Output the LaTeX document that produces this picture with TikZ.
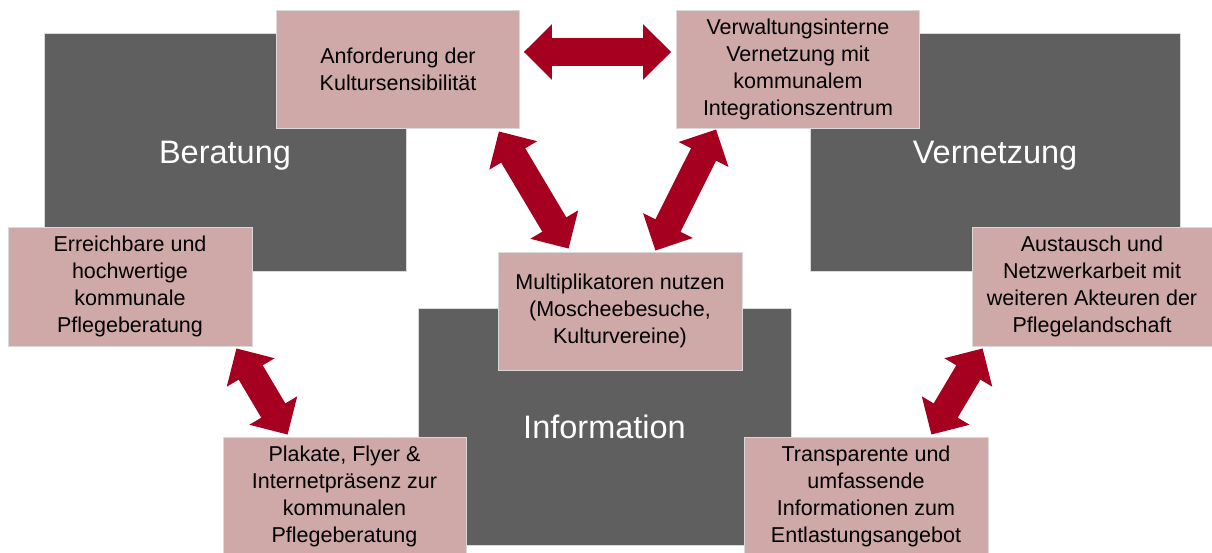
\documentclass[tikz,border=0pt]{standalone}
\usepackage{fontspec}
\setmainfont{Liberation Sans}
\definecolor{fbgray}{RGB}{95,95,95}
\definecolor{fbrose}{RGB}{207,168,168}
\definecolor{fbred}{RGB}{166,0,33}
\usetikzlibrary{arrows.meta}

\begin{document}
\begin{tikzpicture}[x=1pt,y=-1pt,
  field/.style={fill=fbgray,draw=black!15,line width=0.8pt,inner sep=0pt,
    minimum height=238pt,text depth=0pt,font=\fontsize{32.5}{36}\selectfont,text=white},
  task/.style={fill=fbrose,draw=black!15,line width=0.8pt,inner sep=0pt,
    minimum width=243pt,minimum height=118pt,font=\fontsize{21.5}{27}\selectfont,align=center},
  biarrow/.style={{Triangle[width=54pt,length=28pt]}-{Triangle[width=54pt,length=28pt]},
    line width=28pt,fbred}
]
  \useasboundingbox (0,0) rectangle (1212,553);

  % Handlungsfelder
  \node[field,minimum width=362pt] (ber) at (225,152) {Beratung};
  \node[field,minimum width=370pt] (vern) at (995,152) {Vernetzung};
  \node[field,minimum width=373pt,minimum height=237pt] (inf) at (604.5,426.5) {Information};

  % Massnahmen
  \node[task] (anf) at (398,69) {Anforderung der\\Kultursensibilität};
  \node[task] (verw) at (798,69) {Verwaltungsinterne\\Vernetzung mit\\kommunalem\\Integrationszentrum};
  \node[task,minimum width=244pt,minimum height=119pt] (erre) at (130,286.5) {Erreichbare und\\hochwertige\\kommunale\\Pflegeberatung};
  \node[task,minimum width=244pt] (mult) at (620,311) {Multiplikatoren nutzen\\(Moscheebesuche,\\Kulturvereine)};
  \node[task,minimum width=240pt,minimum height=119pt] (aust) at (1092,286.5) {Austausch und\\Netzwerkarbeit mit\\weiteren Akteuren der\\Pflegelandschaft};
  \node[task] (plak) at (344.5,496) {Plakate, Flyer \&\\Internetpräsenz zur\\kommunalen\\Pflegeberatung};
  \node[task,minimum width=244pt] (tran) at (866,496) {Transparente und\\umfassende\\Informationen zum\\Entlastungsangebot};

  % Pfeile
  \draw[biarrow] ([xshift=4pt,yshift=17pt]anf.east) -- ([xshift=-5pt,yshift=17pt]verw.west);
  \draw[biarrow] ([xshift=-21pt,yshift=-3pt]anf.south east) -- ([xshift=71pt,yshift=3pt]mult.north west);
  \draw[biarrow] ([xshift=40pt,yshift=-1pt]verw.south west) -- ([xshift=-87pt,yshift=1pt]mult.north east);
  \draw[biarrow] ([xshift=-16pt,yshift=-2pt]erre.south east) -- ([xshift=65pt,yshift=2pt]plak.north west);
  \draw[biarrow] ([xshift=11pt,yshift=-2pt]aust.south west) -- ([xshift=-57pt,yshift=2pt]tran.north east);
\end{tikzpicture}
\end{document}
